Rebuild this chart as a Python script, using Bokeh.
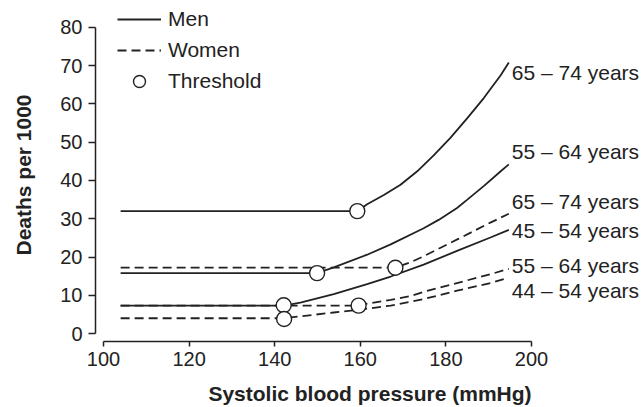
from bokeh.plotting import figure
from bokeh.models import Range1d, FixedTicker, Legend, LegendItem, ColumnDataSource
from bokeh.core.properties import value
from bokeh.embed import file_html
from bokeh.resources import INLINE

# ---- data ----
men_65_x = [104, 159.3, 161.6, 165.5, 169.4, 173.3, 177.2, 181.1, 185.0, 188.9, 192.8, 194.7]
men_65_y = [32.0, 32.0, 33.8, 36.2, 38.9, 42.4, 46.6, 51.2, 56.3, 61.6, 67.5, 70.8]

men_55_x = [104, 149.9, 153.8, 161.6, 167.1, 174.8, 178.3, 182.6, 185.0, 188.9, 192.8, 194.7]
men_55_y = [15.8, 15.8, 17.3, 20.6, 23.3, 27.5, 29.7, 32.8, 35.0, 38.6, 42.4, 44.2]

men_45_x = [104, 142.1, 146.0, 153.8, 161.6, 167.1, 174.8, 182.6, 190.4, 194.7]
men_45_y = [7.3, 7.3, 8.1, 10.3, 12.9, 14.9, 18.0, 21.6, 25.1, 27.1]

women_65_x = [104, 168.2, 171.7, 175.0, 183.0, 190.4, 194.7]
women_65_y = [17.2, 17.2, 18.6, 20.3, 24.8, 29.0, 31.3]

women_55_x = [104, 159.6, 161.6, 167.1, 171.7, 174.8, 182.6, 190.4, 194.7]
women_55_y = [7.3, 7.3, 7.8, 8.8, 9.8, 10.9, 13.2, 15.5, 16.9]

women_44_x = [104, 142.2, 146.0, 153.8, 161.6, 167.1, 174.8, 182.6, 190.4, 194.0]
women_44_y = [4.0, 4.0, 4.5, 5.5, 6.5, 7.3, 9.0, 11.2, 13.2, 14.4]

threshold_x = [159.3, 149.9, 142.1, 168.2, 159.6, 142.2]
threshold_y = [32.0, 15.8, 7.4, 17.2, 7.3, 3.8]

label_text = ["65 \u2013 74 years", "55 \u2013 64 years", "65 \u2013 74 years",
              "45 \u2013 54 years", "55 \u2013 64 years", "44 \u2013 54 years"]
label_x = [195.4, 195.4, 195.4, 195.4, 195.4, 195.4]
label_y = [68.1, 47.6, 34.6, 27.0, 17.7, 11.3]

x_ticks = [100, 120, 140, 160, 180, 200]
y_ticks = [0, 10, 20, 30, 40, 50, 60, 70, 80]

x_title = "Systolic blood pressure (mmHg)"
y_title = "Deaths per 1000"

# ---- styling ----
FONT = "Liberation Sans"
INK = "#222222"
LW = 1.8

p = figure(width=644, height=407, output_backend="svg", toolbar_location=None,
           x_range=Range1d(98.13, 226.4), y_range=Range1d(-2.08, 84.94),
           min_border_left=95, min_border_right=0, min_border_top=8, min_border_bottom=64)
p.outline_line_color = None
p.xgrid.visible = False
p.ygrid.visible = False

for ax in (p.xaxis[0], p.yaxis[0]):
    ax.axis_line_color = INK
    ax.axis_line_width = 1.5
    ax.major_tick_line_color = INK
    ax.major_tick_line_width = 1.5
    ax.major_tick_in = 0
    ax.minor_tick_line_color = None
    ax.major_label_text_font = FONT
    ax.major_label_text_font_size = "20px"
    ax.major_label_text_color = INK
    ax.axis_label_text_font = FONT
    ax.axis_label_text_font_size = "21px"
    ax.axis_label_text_font_style = "bold"
    ax.axis_label_text_color = INK

p.xaxis[0].major_tick_out = 5
p.xaxis[0].major_label_standoff = 5
p.yaxis[0].major_tick_out = 7
p.yaxis[0].major_label_standoff = 6

p.xaxis[0].ticker = FixedTicker(ticks=x_ticks)
p.yaxis[0].ticker = FixedTicker(ticks=y_ticks)
p.xaxis[0].bounds = (x_ticks[0], x_ticks[-1])
p.yaxis[0].bounds = (y_ticks[0], y_ticks[-1])
p.xaxis[0].axis_label = x_title
p.xaxis[0].axis_label_standoff = 13
p.yaxis[0].axis_label = y_title
p.yaxis[0].axis_label_standoff = 22

dash = "9 5"
r_men = p.line(men_65_x, men_65_y, line_color=INK, line_width=LW)
p.line(men_55_x, men_55_y, line_color=INK, line_width=LW)
p.line(men_45_x, men_45_y, line_color=INK, line_width=LW)
r_women = p.line(women_65_x, women_65_y, line_color=INK, line_width=LW, line_dash=dash)
p.line(women_55_x, women_55_y, line_color=INK, line_width=LW, line_dash=dash)
p.line(women_44_x, women_44_y, line_color=INK, line_width=LW, line_dash=dash)

r_thr = p.scatter(threshold_x, threshold_y, marker="circle", size=15,
                  fill_color="white", line_color=INK, line_width=1.4)

src = ColumnDataSource(dict(x=label_x, y=label_y, t=label_text))
p.text(x="x", y="y", text="t", source=src, text_font=value(FONT),
       text_font_size="21px", text_color=INK, text_align="left", text_baseline="middle")

legend = Legend(items=[LegendItem(label="Men", renderers=[r_men]),
                       LegendItem(label="Women", renderers=[r_women]),
                       LegendItem(label="Threshold", renderers=[r_thr])],
                location=(22, 245))
legend.padding = 0
legend.margin = 0
legend.spacing = 1
legend.glyph_width = 44
legend.glyph_height = 30
legend.label_height = 30
legend.label_standoff = 7
legend.label_text_font = FONT
legend.label_text_font_size = "21px"
legend.label_text_color = INK
legend.label_text_baseline = "middle"
legend.border_line_color = None
legend.background_fill_alpha = 0
p.add_layout(legend)

open("out.html", "w").write(file_html(p, INLINE))
